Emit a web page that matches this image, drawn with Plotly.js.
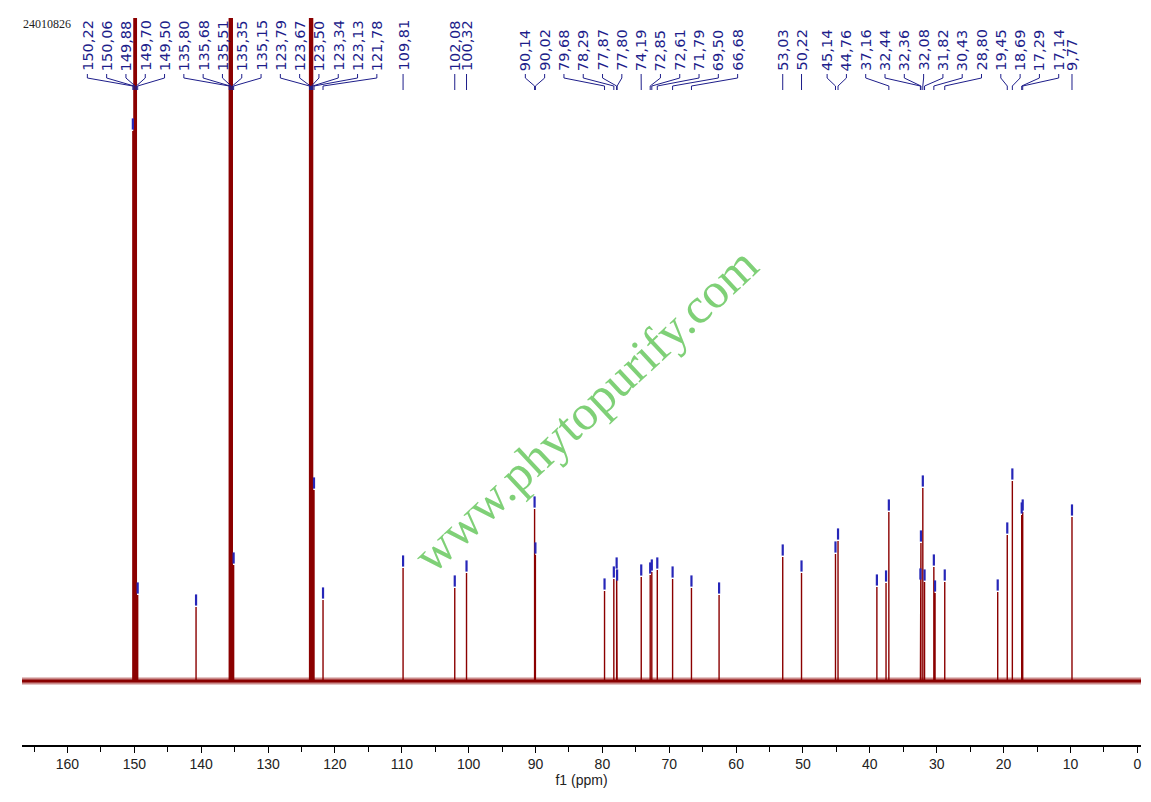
<!DOCTYPE html>
<html>
<head>
<meta charset="utf-8">
<script src="https://cdn.plot.ly/plotly-3.0.1.min.js"></script>
<style>
html, body { margin: 0; padding: 0; background: #fff; }
#chart { width: 1151px; height: 802px; }
</style>
</head>
<body>
<div id="chart"></div>
<script>
// 13C NMR spectrum with peak picking, sample 24010826

const sampleId = '24010826';
const watermarkText = 'www.phytopurify.com';
const axisTitle = 'f1 (ppm)';

// peak positions (ppm), sorted high -> low
const peakPpm = [
	150.22, 150.06, 149.88, 149.70, 149.50, 140.77,
	135.80, 135.68, 135.51, 135.35, 135.15,
	123.79, 123.67, 123.50, 123.34, 123.13, 121.78,
	109.81, 102.08, 100.32, 90.14, 90.02,
	79.68, 78.29, 77.87, 77.80, 74.19, 72.85, 72.61, 71.79, 69.50, 66.68, 62.55,
	53.03, 50.22, 45.14, 44.76, 38.95, 37.58, 37.16,
	32.44, 32.36, 32.08, 31.82, 30.43, 30.25, 28.80,
	20.88, 19.45, 18.69, 17.29, 17.14, 9.77
];

// peak heights (baseline = 0), the giants run off the top
const peakHeight = [
	550, 1500, 1500, 1500, 86, 74,
	1500, 1500, 1500, 1500, 116,
	1500, 1500, 1500, 1500, 191, 81,
	113, 93, 108, 172, 126,
	90, 102, 111, 99, 104, 106, 109, 111, 102, 93, 86,
	124, 108, 127, 140, 94, 98, 169,
	100, 138, 193, 99, 114, 88, 99,
	89, 146, 200, 166, 169, 164
];

// peak labels as printed along the top
const peakLabels = [
	'150,22', '150,06', '149,88', '149,70', '149,50',
	'135,80', '135,68', '135,51', '135,35', '135,15',
	'123,79', '123,67', '123,50', '123,34', '123,13', '121,78',
	'109,81', '102,08', '100,32', '90,14', '90,02',
	'79,68', '78,29', '77,87', '77,80', '74,19', '72,85', '72,61', '71,79', '69,50', '66,68',
	'53,03', '50,22', '45,14', '44,76', '37,16',
	'32,44', '32,36', '32,08', '31,82', '30,43', '28,80',
	'19,45', '18,69', '17,29', '17,14', '9,77'
];

const tickValues = [160, 150, 140, 130, 120, 110, 100, 90, 80, 70, 60, 50, 40, 30, 20, 10, 0];
const tickLabels = ['160', '150', '140', '130', '120', '110', '100', '90', '80', '70', '60', '50', '40', '30', '20', '10', '0'];

// ---- geometry
const W = 1151, H = 802;
const M = {l: 22, r: 10, t: 18, b: 57};
const plotW = W - M.l - M.r;
const xRange = [166.8, -0.55];
const yRange = [-64, 663];

const RED = '#8b0000';
const NAVY = '#1d1d8a';
const PICK = '#2626b8';

const toPx = p => M.l + (p - xRange[0]) / (xRange[1] - xRange[0]) * plotW;
const toPpm = px => xRange[0] + (px - M.l) / plotW * (xRange[1] - xRange[0]);

// spread labels: overlapping groups get centred on the mean of their peaks,
// then neighbouring multi-label groups are pushed apart a little
function layout_labels(desired, spacing, min_gap) {
	let groups = desired.map((d, i) => ({start: i, end: i, center: d}));
	const pos = (g, k) => g.center + (k - g.start - (g.end - g.start) / 2) * spacing;
	let merged = true;
	while (merged) {
		merged = false;
		for (let i = 0; i < groups.length - 1; i++) {
			const a = groups[i], b = groups[i + 1];
			if (pos(b, b.start) - pos(a, a.end) < min_gap) {
				let sum = 0;
				for (let k = a.start; k <= b.end; k++) sum += desired[k];
				groups.splice(i, 2, {start: a.start, end: b.end, center: sum / (b.end - a.start + 1)});
				merged = true;
				break;
			}
		}
	}
	for (let i = 1; i < groups.length; i++) {
		const a = groups[i - 1], b = groups[i];
		if (a.end > a.start && b.end > b.start) {
			const gap = pos(b, b.start) - pos(a, a.end);
			if (gap < spacing) b.center += spacing - gap;
		}
	}
	const out = [];
	groups.forEach(g => {
		for (let k = g.start; k <= g.end; k++) out.push(pos(g, k));
	});
	return out;
}

const labelPpm = peakLabels.map(s => Number.parseFloat(s.replace(',', '.')));
const peakPx = labelPpm.map(toPx);
const labelPx = layout_labels(peakPx, 19.3, 9.6);

// ---- traces
let specX = [xRange[0]], specY = [0];
peakPpm.forEach((p, i) => {
	specX.push(p, p, p);
	specY.push(0, peakHeight[i], 0);
});
specX.push(xRange[1]);
specY.push(0);

let leadX = [], leadY = [];
labelPx.forEach((lx, i) => {
	const px = peakPx[i];
	leadX.push(toPpm(lx), toPpm(lx), toPpm(px), toPpm(px), null);
	leadY.push(74, 78, 86, 90, null);
});

const chart_data = [
	{
		// noise band
		x: [xRange[0], xRange[1]],
		y: [0, 0],
		mode: 'lines',
		line: {color: 'rgba(139,0,0,0.45)', width: 7},
		hoverinfo: 'skip'
	},
	{
		x: [xRange[0], xRange[1]],
		y: [0, 0],
		mode: 'lines',
		line: {color: RED, width: 3},
		hoverinfo: 'skip'
	},
	{
		x: specX,
		y: specY,
		mode: 'lines',
		line: {color: RED, width: 1.4},
		name: 'spectrum'
	},
	{
		x: peakPpm,
		y: peakHeight.map(h => h + 7),
		mode: 'markers',
		marker: {symbol: 'line-ns', size: 8, line: {color: PICK, width: 2.2}},
		hoverinfo: 'x',
		name: 'picks'
	},
	{
		x: leadX,
		y: leadY,
		yaxis: 'y2',
		mode: 'lines',
		line: {color: NAVY, width: 1},
		hoverinfo: 'skip',
		cliponaxis: false
	}
];

const annotations = labelPx.map((lx, i) => ({
	x: toPpm(lx),
	y: 72,
	xref: 'x',
	yref: 'y2',
	text: peakLabels[i],
	textangle: -90,
	showarrow: false,
	xanchor: 'center',
	yanchor: 'bottom',
	borderpad: 0,
	font: {family: 'DejaVu Sans, Verdana, sans-serif', size: 14.5, color: NAVY}
}));

annotations.push({
	x: 0, y: 24, xref: 'paper', yref: 'y2',
	xanchor: 'left', yanchor: 'middle',
	text: sampleId, showarrow: false, borderpad: 0,
	font: {family: 'Liberation Serif, Times New Roman, serif', size: 12, color: '#222'}
});

annotations.push({
	x: (585 - M.l) / plotW, y: (H - M.b - 410) / (H - M.t - M.b),
	xref: 'paper', yref: 'paper',
	xanchor: 'center', yanchor: 'middle',
	text: watermarkText, textangle: -43, showarrow: false,
	font: {family: 'Liberation Serif, Times New Roman, serif', size: 50, color: 'rgba(105,200,95,0.85)'}
});

const chart_layout = {
	width: W,
	height: H,
	margin: M,
	paper_bgcolor: '#fff',
	plot_bgcolor: '#fff',
	showlegend: false,
	xaxis: {
		range: xRange,
		autorange: false,
		showline: true,
		linecolor: '#000',
		linewidth: 1.6,
		showgrid: false,
		zeroline: false,
		ticks: 'outside',
		ticklen: 6,
		tickwidth: 1,
		tickcolor: '#000',
		tickmode: 'array',
		tickvals: tickValues,
		ticktext: tickLabels,
		minor: {dtick: 5, tick0: 0, ticks: 'outside', ticklen: 5, tickwidth: 1, tickcolor: '#000', showgrid: false},
		tickfont: {family: 'Liberation Sans Narrow, Liberation Sans, Arial, sans-serif', size: 14, color: '#222'},
		title: {
			text: axisTitle,
			standoff: 2,
			font: {family: 'Liberation Sans Narrow, Liberation Sans, Arial, sans-serif', size: 14, color: '#222'}
		}
	},
	yaxis: {
		range: yRange,
		autorange: false,
		visible: false,
		showgrid: false,
		zeroline: false
	},
	yaxis2: {
		range: [H - M.b, M.t],
		autorange: false,
		overlaying: 'y',
		visible: false,
		showgrid: false,
		zeroline: false
	},
	annotations: annotations
};

Plotly.newPlot('chart', chart_data, chart_layout, {displayModeBar: false, staticPlot: true});
</script>
</body>
</html>
